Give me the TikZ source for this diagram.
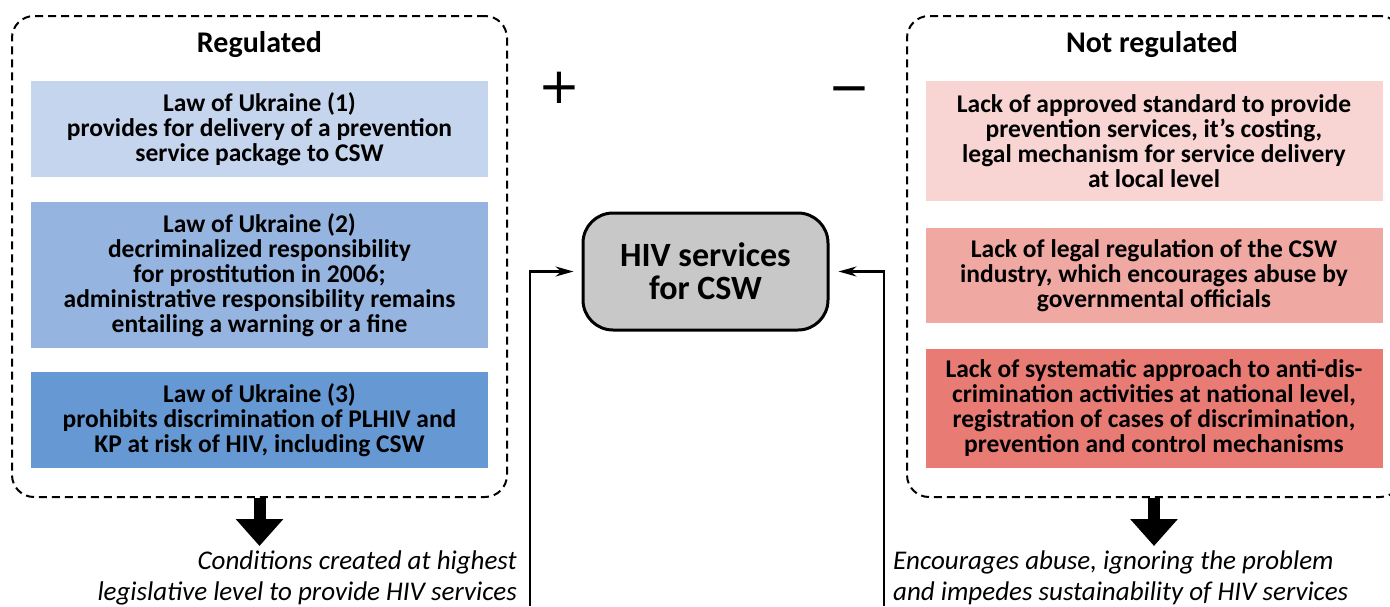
\documentclass[tikz,border=0pt]{standalone}
\usepackage{fontspec}
\setmainfont{Carlito}
\newfontfamily\signfont{DejaVu Sans}
\usetikzlibrary{arrows.meta}

% box fills
\definecolor{lawA}{HTML}{C6D5EE}
\definecolor{lawB}{HTML}{95B4E0}
\definecolor{lawC}{HTML}{6699D3}
\definecolor{lackA}{HTML}{F8D4D3}
\definecolor{lackB}{HTML}{F0A8A2}
\definecolor{lackC}{HTML}{E87C74}
\definecolor{hivgray}{HTML}{C8C8C8}

\tikzset{
  groupframe/.style={draw, line width=2pt, dash pattern=on 8pt off 5pt,
    rounded corners=22pt, minimum width=495pt, minimum height=481pt},
  grouptitle/.style={font=\bfseries\fontsize{30}{32}\selectfont},
  lawbox/.style={inner sep=0pt, minimum width=457pt, align=center,
    font=\bfseries\fontsize{25.5}{25}\selectfont},
  hivbox/.style={draw, line width=3pt, fill=hivgray, rounded corners=30pt,
    minimum width=245pt, minimum height=117pt, align=center,
    font=\bfseries\fontsize{34}{33}\selectfont},
  note/.style={inner sep=0pt, font=\itshape\fontsize{27}{31}\selectfont},
  sign/.style={inner sep=0pt, font=\signfont\fontsize{50}{50}\selectfont},
  bigarrow/.style={line width=12pt, -{Triangle[length=27pt, width=46pt]}},
  feed/.style={line width=2.2pt, -{Stealth[length=18pt, width=10pt]}}
}

\begin{document}
\begin{tikzpicture}[x=1pt, y=-1pt]
\useasboundingbox (0,0) rectangle (1390,606);
\clip (0,0) rectangle (1390,606);

% left group: what the laws regulate
\node[groupframe] (regframe) at (259.5,256.5) {};
\node[grouptitle] (regtitle) at (259.5,45) {Regulated};
\node[lawbox, fill=lawA, minimum height=96pt] (law1) at (259.5,129)
  {Law of Ukraine (1)\\provides for delivery of a prevention\\service package to CSW};
\node[lawbox, fill=lawB, minimum height=146pt] (law2) at (259.5,275)
  {Law of Ukraine (2)\\decriminalized responsibility\\for prostitution in 2006;\\administrative responsibility remains\\entailing a warning or a fine};
\node[lawbox, fill=lawC, minimum height=96pt] (law3) at (259.5,420)
  {Law of Ukraine (3)\\prohibits discrimination of PLHIV and\\KP at risk of HIV, including CSW};

% right group: what is missing
\node[groupframe] (lackframe) at (1154.5,256.5) {};
\node[grouptitle] (lacktitle) at (1152,45) {Not regulated};
\node[lawbox, fill=lackA, minimum height=120pt] (lack1) at (1154,141)
  {Lack of approved standard to provide\\prevention services, it’s costing,\\legal mechanism for service delivery\\at local level};
\node[lawbox, fill=lackB, minimum height=95pt] (lack2) at (1154,275.5)
  {Lack of legal regulation of the CSW\\industry, which encourages abuse by\\governmental officials};
\node[lawbox, fill=lackC, minimum height=119pt] (lack3) at (1154,408.5)
  {Lack of systematic approach to anti-dis-\\crimination activities at national level,\\registration of cases of discrimination,\\prevention and control mechanisms};

% centre box with the signs above it
\node[hivbox] (hiv) at (705.5,271.5) {HIV services\\for CSW};
\node[sign] (plus) at (559,88) {+};
\node[sign] (minus) at (849,96) {−};

% outcomes below each group
\coordinate (regend) at (259.5,546);
\coordinate (lackend) at (1154,546);
\draw[bigarrow] (regframe.south) -- (regend);
\draw[bigarrow] (lackframe.south -| lackend) -- (lackend);
\node[note, anchor=east, align=right] (regnote) at (517,578)
  {Conditions created at highest\\legislative level to provide HIV services};
\node[note, anchor=west, align=left] (lacknote) at (893,578)
  {Encourages abuse, ignoring the problem\\and impedes sustainability of HIV services};

% feedback lines into the centre box
\coordinate (regfoot) at (530,606);
\coordinate (lackfoot) at (884,606);
\draw[feed, shorten >=8pt] (regfoot) |- (hiv.west);
\draw[feed, shorten >=9pt] (lackfoot) |- (hiv.east);
\end{tikzpicture}
\end{document}
